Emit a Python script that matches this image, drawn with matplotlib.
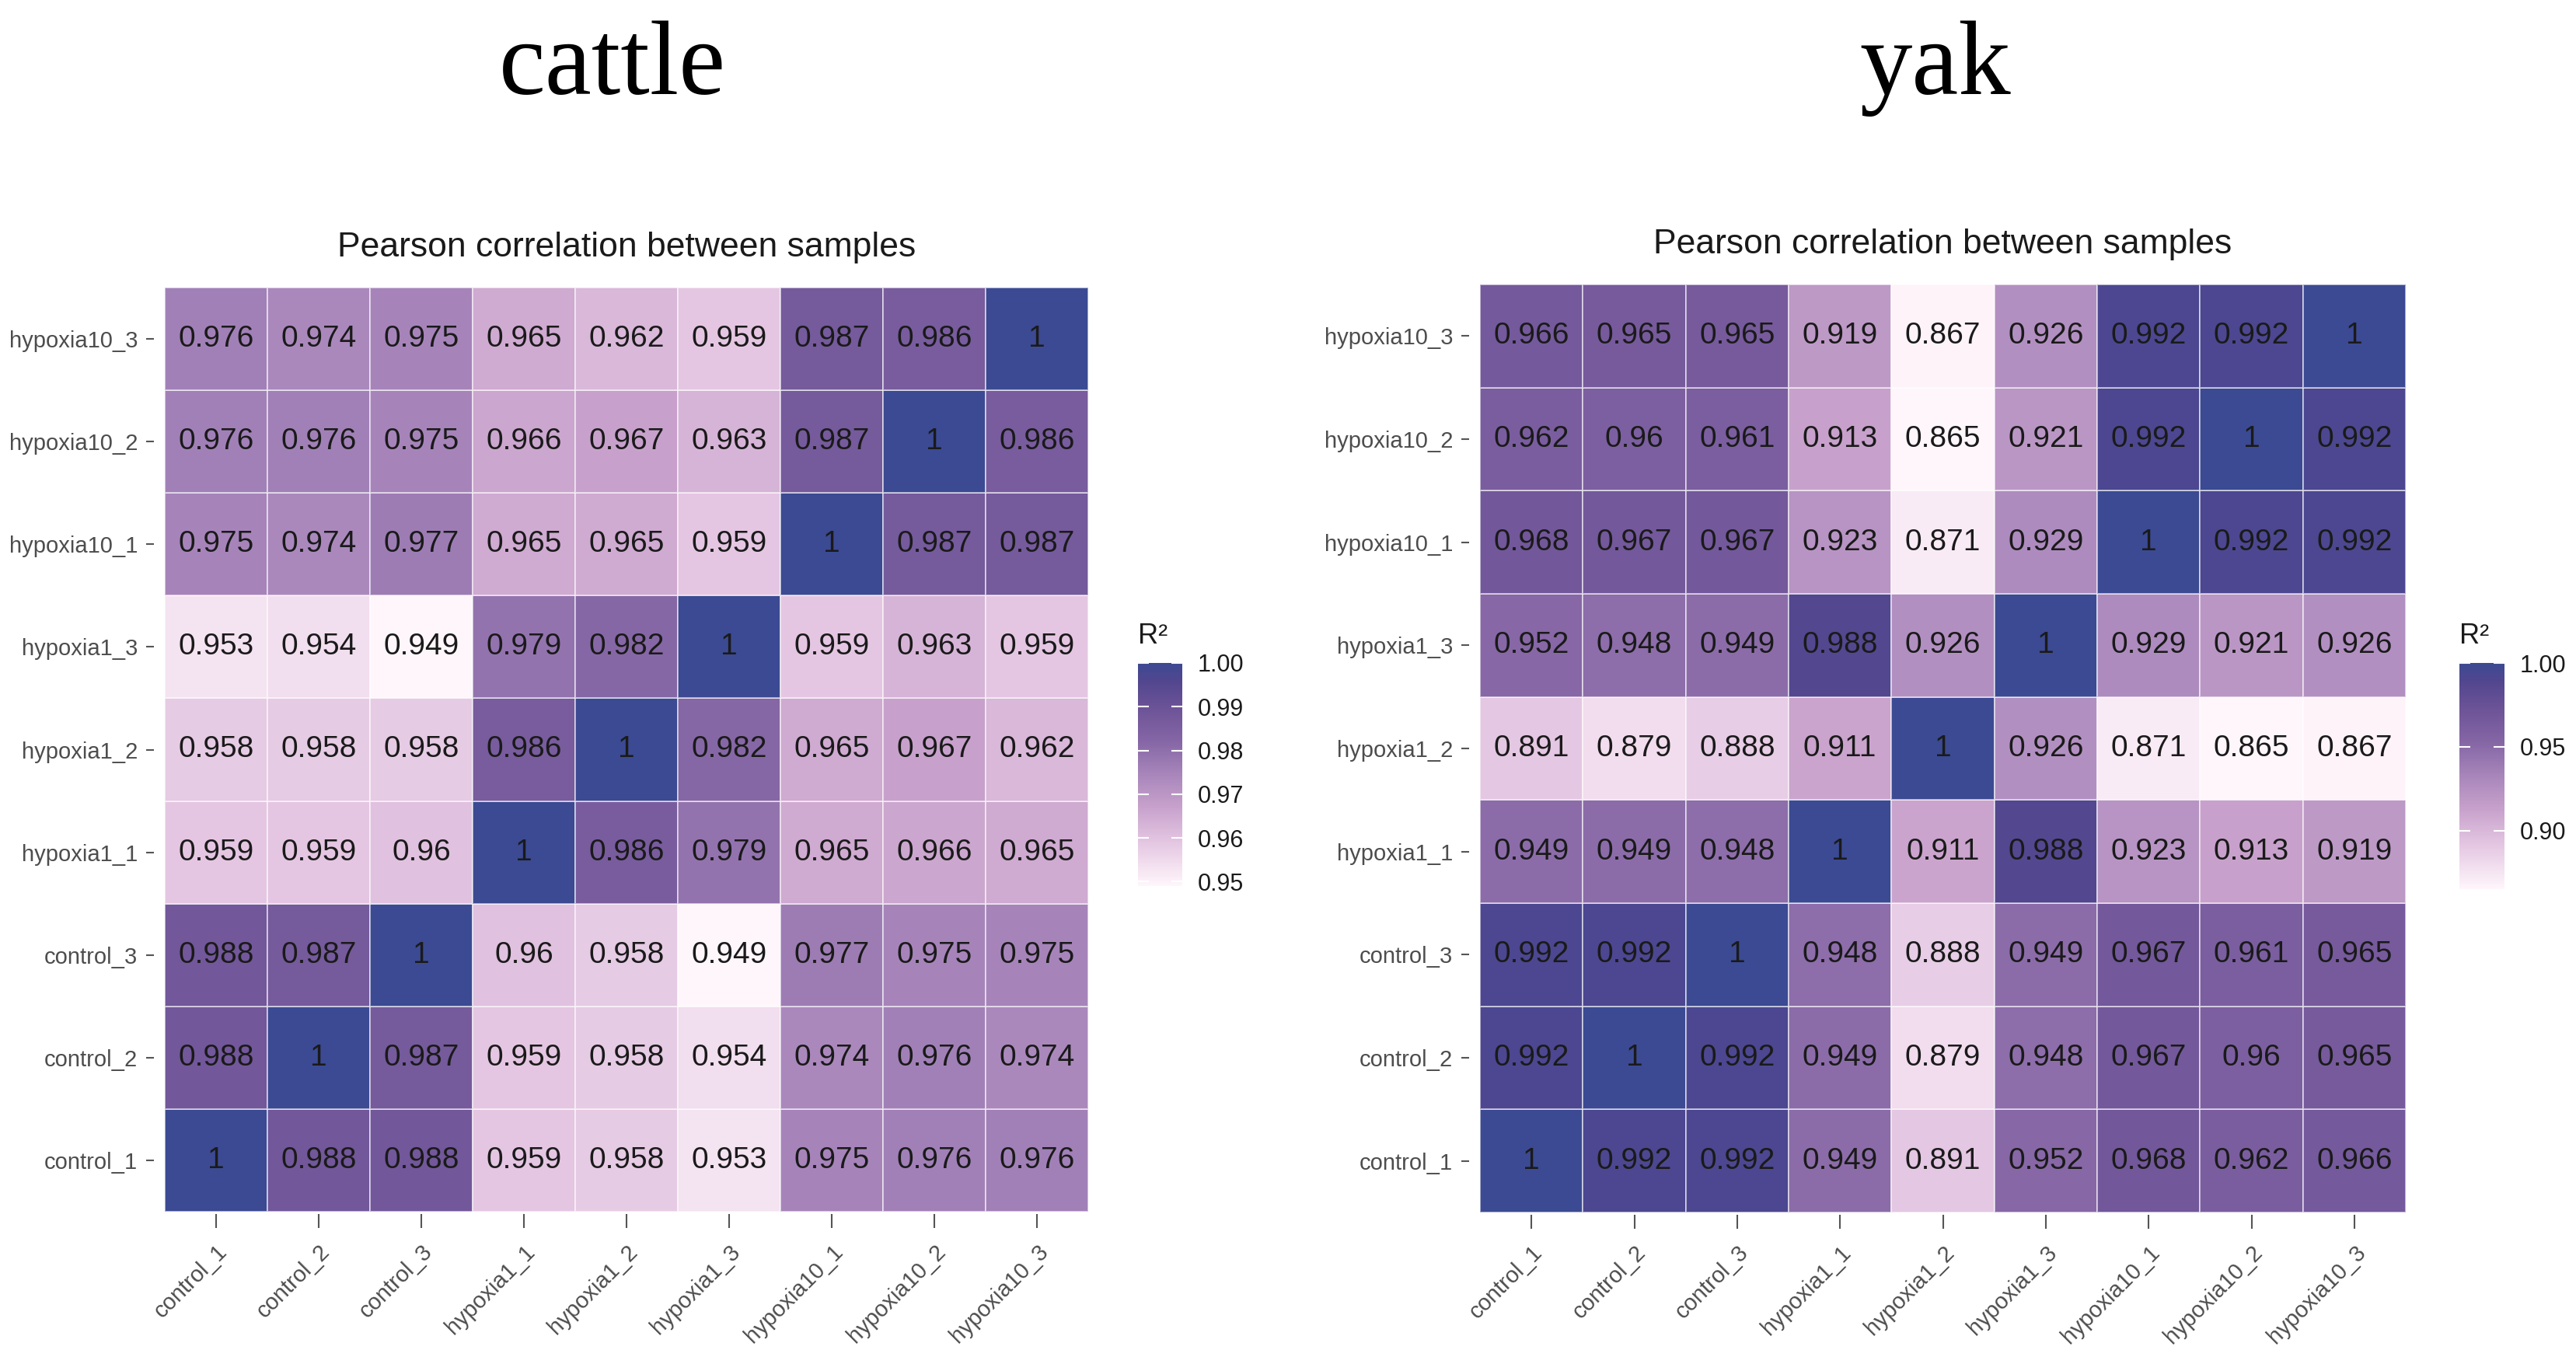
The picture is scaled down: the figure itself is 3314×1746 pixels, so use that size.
import numpy as np
import matplotlib
matplotlib.use("Agg")
import matplotlib.pyplot as plt
from matplotlib.colors import LinearSegmentedColormap, Normalize

samples = ["control_1", "control_2", "control_3",
           "hypoxia1_1", "hypoxia1_2", "hypoxia1_3",
           "hypoxia10_1", "hypoxia10_2", "hypoxia10_3"]

# row i / column j follow `samples`; row 0 is drawn at the bottom
cattle = [
    [1, 0.988, 0.988, 0.959, 0.958, 0.953, 0.975, 0.976, 0.976],
    [0.988, 1, 0.987, 0.959, 0.958, 0.954, 0.974, 0.976, 0.974],
    [0.988, 0.987, 1, 0.96, 0.958, 0.949, 0.977, 0.975, 0.975],
    [0.959, 0.959, 0.96, 1, 0.986, 0.979, 0.965, 0.966, 0.965],
    [0.958, 0.958, 0.958, 0.986, 1, 0.982, 0.965, 0.967, 0.962],
    [0.953, 0.954, 0.949, 0.979, 0.982, 1, 0.959, 0.963, 0.959],
    [0.975, 0.974, 0.977, 0.965, 0.965, 0.959, 1, 0.987, 0.987],
    [0.976, 0.976, 0.975, 0.966, 0.967, 0.963, 0.987, 1, 0.986],
    [0.976, 0.974, 0.975, 0.965, 0.962, 0.959, 0.987, 0.986, 1],
]
yak = [
    [1, 0.992, 0.992, 0.949, 0.891, 0.952, 0.968, 0.962, 0.966],
    [0.992, 1, 0.992, 0.949, 0.879, 0.948, 0.967, 0.96, 0.965],
    [0.992, 0.992, 1, 0.948, 0.888, 0.949, 0.967, 0.961, 0.965],
    [0.949, 0.949, 0.948, 1, 0.911, 0.988, 0.923, 0.913, 0.919],
    [0.891, 0.879, 0.888, 0.911, 1, 0.926, 0.871, 0.865, 0.867],
    [0.952, 0.948, 0.949, 0.988, 0.926, 1, 0.929, 0.921, 0.926],
    [0.968, 0.967, 0.967, 0.923, 0.871, 0.929, 1, 0.992, 0.992],
    [0.962, 0.96, 0.961, 0.913, 0.865, 0.921, 0.992, 1, 0.992],
    [0.966, 0.965, 0.965, 0.919, 0.867, 0.926, 0.992, 0.992, 1],
]
cattle_ticks = [0.95, 0.96, 0.97, 0.98, 0.99, 1.00]
yak_ticks = [0.90, 0.95, 1.00]

plt.rcParams["font.family"] = ["Liberation Sans", "DejaVu Sans"]

cmap = LinearSegmentedColormap.from_list("r2", [
    (0.00, "#fff6fb"), (0.20, "#e3c5e1"), (0.35, "#c8a2cc"),
    (0.50, "#a886bb"), (0.65, "#8566a5"), (0.80, "#6c5397"),
    (0.92, "#52468f"), (1.00, "#3b4a92")])

W, H = 3314, 1746
fig = plt.figure(figsize=(W / 100, H / 100), dpi=100)


def px(x0, y0, x1, y1):
    return [x0 / W, 1 - y1 / H, (x1 - x0) / W, (y1 - y0) / H]


def panel(mat, title, ticks, box, cbox, title_x):
    M = np.array(mat, float)
    n = len(samples)
    ax = fig.add_axes(px(*box))
    # move ticks off the tiles first; set_position resets tick labels
    for s in ax.spines.values():
        s.set_visible(False)
    ax.spines["left"].set_position(("outward", 10))
    ax.spines["bottom"].set_position(("outward", 2))

    norm = Normalize(M.min(), M.max())
    mesh = ax.pcolormesh(np.arange(n + 1) - 0.5, np.arange(n + 1) - 0.5, M,
                         cmap=cmap, norm=norm,
                         edgecolors=(1, 1, 1, 0.55), linewidth=1.2)
    for i in range(n):
        for j in range(n):
            ax.text(j, i, f"{M[i, j]:g}", ha="center", va="center",
                    fontsize=28, color="#1a1a1a")
    ax.set_xlim(-0.5, n - 0.5)
    ax.set_ylim(-0.5, n - 0.5)
    ax.set_xticks(range(n))
    ax.set_yticks(range(n))
    ax.set_xticklabels(samples, rotation=45, ha="right", va="top",
                       rotation_mode="anchor")
    ax.set_yticklabels(samples)
    ax.tick_params(axis="both", labelsize=21, labelcolor="#4d4d4d",
                   color="#555555", width=1.5)
    ax.tick_params(axis="y", length=7, pad=8)
    ax.tick_params(axis="x", length=13, pad=12)
    ax.set_title("Pearson correlation between samples", fontsize=32,
                 color="#1a1a1a", pad=29)

    fig.text(title_x / W, 1 - 121 / H, title, ha="center", va="baseline",
             fontsize=97, family="Liberation Serif")

    cax = fig.add_axes(px(*cbox))
    cb = fig.colorbar(mesh, cax=cax, ticks=ticks)
    cb.outline.set_visible(False)
    cb.ax.set_yticklabels([f"{t:.2f}" for t in ticks])
    cb.ax.tick_params(direction="in", color="white", length=10, width=1.5,
                      left=True, right=True, labelsize=22,
                      labelcolor="#1a1a1a", pad=14)
    fig.text(cbox[0] / W, 1 - 828 / H, "R\u00b2", ha="left", va="baseline",
             fontsize=26, color="#1a1a1a")


panel(cattle, "cattle", cattle_ticks, (212, 370, 1400, 1559),
      (1464, 853, 1521, 1140), 788)
panel(yak, "yak", yak_ticks, (1904, 366, 3095, 1560),
      (3164, 853, 3222, 1144), 2490)

fig.savefig("out.png", dpi=100)
